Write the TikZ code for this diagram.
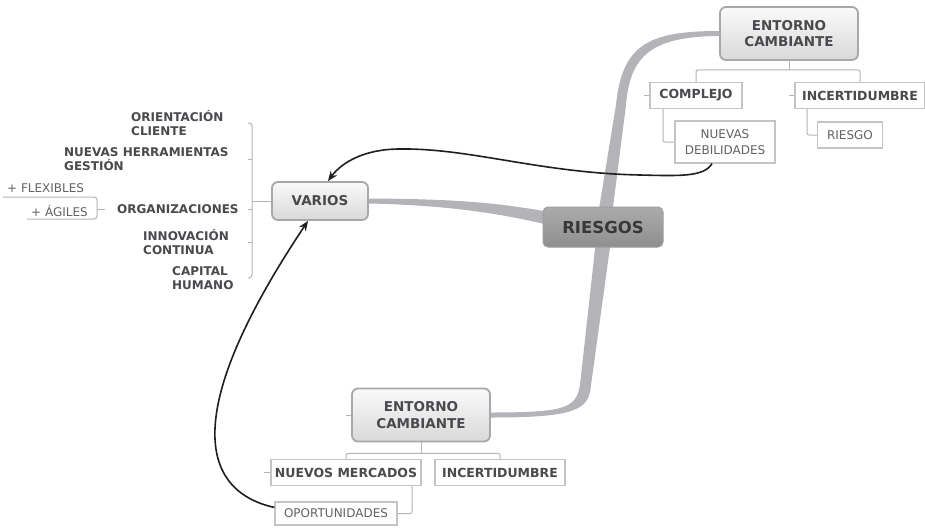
\documentclass[tikz,border=0pt]{standalone}
\usepackage{fontspec}
\setmainfont{DejaVu Sans}
\usetikzlibrary{calc,arrows.meta}
\pgfdeclarelayer{background}
\pgfsetlayers{background,main}

\definecolor{txt}{HTML}{4A4A4E}
\definecolor{leaftxt}{HTML}{626266}
\definecolor{topicline}{HTML}{A8A8AC}
\definecolor{boxline}{HTML}{C4C4C7}
\definecolor{conncol}{HTML}{B4B4B8}
\definecolor{branchcol}{HTML}{B3B3B8}

\tikzset{
  topic/.style={draw=topicline, line width=1.8pt, rounded corners=6pt,
    top color=white!96!gray, bottom color=black!15,
    text=txt, font=\bfseries\fontsize{13.5}{16.5}\selectfont, align=center,
    minimum width=138pt, minimum height=53pt, inner sep=2pt},
  central/.style={draw=black!38, line width=1pt, rounded corners=5pt,
    top color=black!33, bottom color=black!44,
    text=black!78, font=\bfseries\fontsize{16.5}{19}\selectfont,
    minimum width=120pt, minimum height=40pt, inner sep=2pt},
  sub/.style={draw=boxline, line width=1.2pt, fill=white, text=txt,
    font=\bfseries\fontsize{12.5}{15}\selectfont, inner sep=0pt,
    minimum height=26pt},
  leaf/.style={draw=boxline, line width=1.2pt, fill=white, text=leaftxt,
    font=\fontsize{12}{16}\selectfont, align=center, inner sep=0pt},
  tag/.style={text=txt, font=\bfseries\fontsize{12}{14.5}\selectfont,
    align=left, inner sep=0pt, anchor=west},
  plain/.style={text=leaftxt, font=\fontsize{12}{14.5}\selectfont,
    inner sep=0pt, anchor=west},
  conn/.style={draw=conncol, line width=1pt, rounded corners=2pt},
  link/.style={draw=black!88, line width=1.6pt,
    -{Stealth[length=10pt,width=8pt]}}
}

\begin{document}
\begin{tikzpicture}[x=1pt,y=-1pt]
\useasboundingbox (0,0) rectangle (925,530);

% central topic and main branches
\node[central] (riesgos) at (603,227) {RIESGOS};
\node[topic] (ent1) at (789,33.5) {ENTORNO\\CAMBIANTE};
\node[topic] (ent2) at (421,415) {ENTORNO\\CAMBIANTE};
\node[topic, minimum width=96pt, minimum height=38pt] (varios) at (320,201) {VARIOS};

% upper branch children
\node[sub, minimum width=92pt] (compl) at (696,95.5) {COMPLEJO};
\node[sub, minimum width=130pt] (inc1) at (860,95.5) {INCERTIDUMBRE};
\node[leaf, minimum width=100pt, minimum height=42pt] (nd) at (725,142) {NUEVAS\\DEBILIDADES};
\node[leaf, minimum width=65pt, minimum height=26pt] (rg) at (850,135) {RIESGO};

% lower branch children
\node[sub, minimum width=150pt] (nm) at (346,472.5) {NUEVOS MERCADOS};
\node[sub, minimum width=130pt] (inc2) at (500,472.5) {INCERTIDUMBRE};
\node[leaf, minimum width=122pt, minimum height=23pt] (op) at (336,513.5) {OPORTUNIDADES};

% VARIOS children
\node[tag] (ori) at (131,123) {ORIENTACIÓN\\CLIENTE};
\node[tag] (herr) at (64,159) {NUEVAS HERRAMIENTAS\\GESTIÓN};
\node[tag] (org) at (117,209) {ORGANIZACIONES};
\node[tag] (inno) at (143,242) {INNOVACIÓN\\CONTINUA};
\node[tag] (cap) at (172,278) {CAPITAL\\HUMANO};

% ORGANIZACIONES children
\node[plain] (flex) at (7,188) {+ FLEXIBLES};
\node[plain] (ag) at (31,211) {+ ÁGILES};

\coordinate (vb) at (252,201);
\coordinate (fl) at (3,197);
\coordinate (fr) at (97,197);
\coordinate (ar) at (97,219);
\coordinate (al) at (27,219);

\begin{pgfonlayer}{background}
  \fill[white] (0,0) rectangle (925,530);
  % tapered branch RIESGOS -> VARIOS
  \fill[branchcol] ($(varios.east)+(0,-2.5)$) .. controls (440,199) and (490,201) ..
    ($(riesgos.west)+(6,-15)$) -- ($(riesgos.west)+(6,-2)$)
    .. controls (495,212) and (440,205) .. ($(varios.east)+(0,2.5)$) -- cycle;
  % tapered branch RIESGOS -> upper ENTORNO CAMBIANTE
  \fill[branchcol] ($(ent1.west)+(0,-2.5)$) .. controls (648,31) and (622,45) ..
    (616,105) -- (598,215) -- (612,215) -- (626,105)
    .. controls (630,55) and (652,36.5) .. ($(ent1.west)+(0,2.5)$) -- cycle;
  % tapered branch RIESGOS -> lower ENTORNO CAMBIANTE
  \fill[branchcol] (596,240) -- (580,385) .. controls (576,408) and (566,412.5) ..
    ($(ent2.east)+(0,-2.5)$) -- ($(ent2.east)+(0,2.5)$)
    .. controls (576,417.5) and (589,410) .. (591,385) -- (611,240) -- cycle;

  % upper ENTORNO CAMBIANTE tree
  \draw[conn] (ent1.south) -- ++(0,9);
  \draw[conn] (compl.north) |- ($(ent1.south)+(0,9)$) -| (inc1.north);
  \draw[conn] ([xshift=-33pt]compl.south) |- (nd.west);
  \draw[conn] ([xshift=-53pt]inc1.south) |- (rg.west);
  \draw[conn] (compl.west) -- ++(-5,0);
  \draw[conn] (inc1.west) -- ++(-5,0);

  % lower ENTORNO CAMBIANTE tree
  \draw[conn] (ent2.south) -- ++(0,11);
  \draw[conn] (nm.north) |- ($(ent2.south)+(0,11)$) -| (inc2.north);
  \draw[conn] ([xshift=66pt]nm.south) |- (op.east);
  \draw[conn] (ent2.west) -- ++(-5,0);
  \draw[conn] (nm.west) -- ++(-6,0);

  % VARIOS bracket
  \draw[conn] (varios.west) -- (vb);
  \draw[conn, rounded corners=3pt] ($(vb |- ori.west)+(-4,0)$) -- (vb |- ori.west)
    -- (vb |- cap.west) -- ++(-4,0);
  \foreach \n in {herr,org,inno}
    \draw[conn] (vb |- \n.west) -- ++(-4,0);

  % ORGANIZACIONES bracket
  \draw[conn, rounded corners=3pt] (fl) -- (fr) -- (ar) -- (al);
  \draw[conn] ($(org.west)+(-12,0)$) -- (org.west -| fr);
\end{pgfonlayer}

% relation arrows
\draw[link] ([xshift=-13pt]nd.south) .. controls (704,177) and (680,176) .. (640,175)
  .. controls (540,173) and (470,148) .. (400,149)
  .. controls (365,149) and (342,162) .. ([xshift=8pt]varios.north);
\draw[link] ($(op.north west)!0.25!(op.south west)$) .. controls (205,492) and (175,420) ..
  ([xshift=-12pt]varios.south);
\end{tikzpicture}
\end{document}
